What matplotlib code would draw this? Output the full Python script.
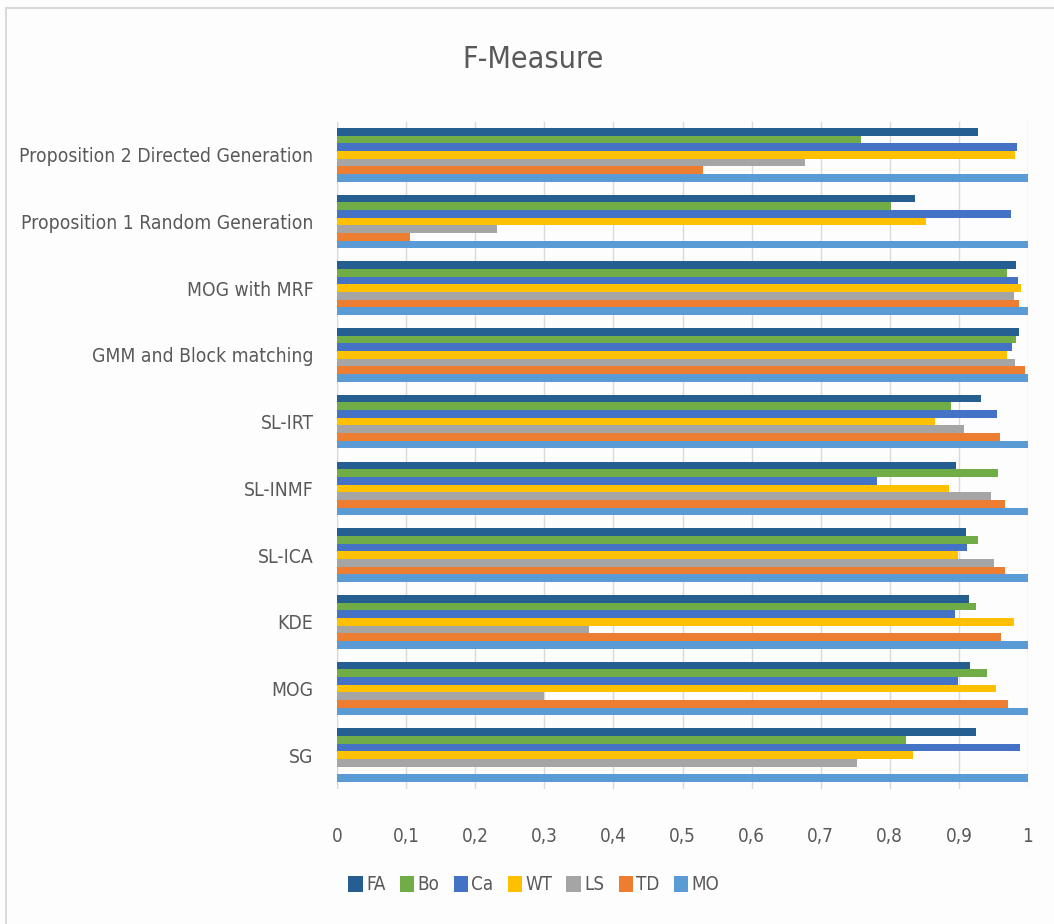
import matplotlib
matplotlib.use("Agg")
import matplotlib.pyplot as plt
from matplotlib.patches import Rectangle, Patch
from matplotlib import font_manager as fm
import numpy as np

categories = ["SG", "MOG", "KDE", "SL-ICA", "SL-INMF", "SL-IRT",
              "GMM and Block matching", "MOG with MRF",
              "Proposition 1 Random Generation", "Proposition 2 Directed Generation"]
series_names = ["FA", "Bo", "Ca", "WT", "LS", "TD", "MO"]
FA = [0.925, 0.916, 0.914, 0.910, 0.896, 0.932, 0.987, 0.982, 0.837, 0.928]
Bo = [0.823, 0.940, 0.925, 0.927, 0.956, 0.889, 0.982, 0.969, 0.802, 0.758]
Ca = [0.989, 0.899, 0.895, 0.912, 0.781, 0.955, 0.977, 0.986, 0.976, 0.984]
WT = [0.834, 0.954, 0.980, 0.899, 0.885, 0.865, 0.969, 0.990, 0.853, 0.981]
LS = [0.753, 0.300, 0.364, 0.951, 0.947, 0.908, 0.981, 0.980, 0.232, 0.677]
TD = [0.000, 0.971, 0.961, 0.967, 0.967, 0.960, 0.995, 0.987, 0.105, 0.529]
MO = [1.000, 1.000, 1.000, 1.000, 1.000, 1.000, 1.000, 1.000, 1.000, 1.000]
series_values = [FA, Bo, Ca, WT, LS, TD, MO]
colors = ["#255E91", "#70AD47", "#4472C4", "#FFC000", "#A5A5A5", "#ED7D31", "#5B9BD5"]
xticks = [0, 0.1, 0.2, 0.3, 0.4, 0.5, 0.6, 0.7, 0.8, 0.9, 1.0]
xtick_labels = ["0", "0,1", "0,2", "0,3", "0,4", "0,5", "0,6", "0,7", "0,8", "0,9", "1"]

# ---- pick a condensed font if one is installed ----
prefs = ["LiberationSansNarrow-Regular.ttf", "NotoSans-Condensed.ttf",
         "NotoSans-SemiCondensed.ttf", "DejaVuSansCondensed.ttf"]
fpath = None
files = {}
for f in fm.fontManager.ttflist:
    files[f.fname.split("/")[-1]] = f.fname
for p in prefs:
    if p in files:
        fpath = files[p]
        break
if fpath is not None:
    FP = lambda: fm.FontProperties(fname=fpath)
else:
    FP = lambda: fm.FontProperties(family="Open Sans")

W, H = 1054, 924
fig = plt.figure(figsize=(W / 100, H / 100), dpi=100, facecolor="#FDFDFD")
renderer = fig.canvas.get_renderer()


def fit_size(text, target_px, base=14.0):
    t = fig.text(0, 0, text, fontproperties=FP(), fontsize=base)
    w = t.get_window_extent(renderer).width
    t.remove()
    return base * target_px / w


cat_size = fit_size("Proposition 2 Directed Generation", 296)
title_size = fit_size("F-Measure", 142)
tick_size = fit_size("0,5", 27)
leg_size = fit_size("MO", 28)

# chart frame
fig.patches.append(Rectangle((6 / W, -0.1), 1.2, 1 - 8 / H + 0.1, transform=fig.transFigure,
                             fill=False, edgecolor="#D9D9D9", linewidth=1.5))

ax_left, ax_right = 337 / W, 1028 / W
ax_top, ax_bot = 1 - 121.5 / H, 1 - 788.5 / H
ax = fig.add_axes([ax_left, ax_bot, ax_right - ax_left, ax_top - ax_bot])
ax.set_facecolor("#FDFDFD")

y = np.arange(len(categories))
h = 0.115
n = len(series_names)
for i, (name, vals, c) in enumerate(zip(series_names, series_values, colors)):
    off = (n - 1) / 2 * h - i * h
    ax.barh(y + off, vals, height=h, color=c, label=name, zorder=3, linewidth=0)

ax.set_xlim(0, 1)
ax.set_ylim(-0.5, len(categories) - 0.5)
ax.set_xticks(xticks)
ax.set_xticklabels(xtick_labels, fontproperties=FP(), fontsize=tick_size, color="#595959")
ax.set_yticks(y)
ax.set_yticklabels(categories, fontproperties=FP(), fontsize=cat_size, color="#595959")
ax.grid(axis="x", color="#D9D9D9", linewidth=1, zorder=0)
ax.tick_params(axis="x", length=0, pad=28)
ax.tick_params(axis="y", length=0, pad=17)
for s in ax.spines.values():
    s.set_visible(False)
ax.axvline(0, color="#D9D9D9", linewidth=1, zorder=2)

fig.text(533 / W, 1 - 60 / H, "F-Measure", ha="center", va="center",
         fontproperties=FP(), fontsize=title_size, color="#595959")

handles = [Patch(facecolor=c, label=nm) for nm, c in zip(series_names, colors)]
lp = FP()
lp.set_size(leg_size)
fig.legend(handles=handles, loc="center", bbox_to_anchor=(534 / W, 1 - 885 / H), ncol=7,
           frameon=False, prop=lp, labelcolor="#595959", handlelength=0.75, handleheight=1.0,
           handletextpad=0.2, columnspacing=0.75)

fig.savefig("out.png", dpi=100, facecolor=fig.get_facecolor())
